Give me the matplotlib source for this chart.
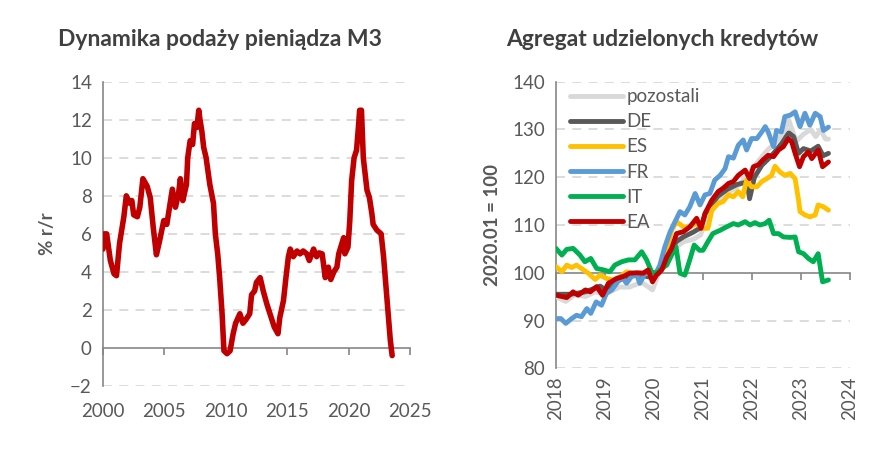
import matplotlib
matplotlib.use('Agg')
import matplotlib.pyplot as plt
import numpy as np

plt.rcParams['font.family'] = ['Lato', 'DejaVu Sans']

# --- M3 (left) ---
m3_t = [2000.0, 2000.1, 2000.3, 2000.6, 2000.9, 2001.1, 2001.35, 2001.7, 2001.9, 2002.2,
        2002.35, 2002.5, 2002.8, 2003.0, 2003.25, 2003.6, 2003.85, 2004.1, 2004.35, 2004.6,
        2004.95, 2005.2, 2005.65, 2005.9, 2006.15, 2006.3, 2006.5, 2006.8, 2006.9, 2007.1,
        2007.3, 2007.45, 2007.65, 2007.8, 2007.9, 2008.05, 2008.2, 2008.4, 2008.7, 2009.0,
        2009.15, 2009.35, 2009.5, 2009.7, 2009.85, 2010.1, 2010.35, 2010.6, 2010.8, 2011.15,
        2011.4, 2011.65, 2011.95, 2012.1, 2012.35, 2012.5, 2012.8, 2013.05, 2013.35, 2013.6,
        2013.95, 2014.25, 2014.4, 2014.7, 2014.9, 2015.1, 2015.25, 2015.5, 2015.8, 2016.05,
        2016.3, 2016.6, 2016.8, 2017.15, 2017.4, 2017.6, 2017.85, 2018.1, 2018.35, 2018.55,
        2018.8, 2019.05, 2019.2, 2019.6, 2019.7, 2019.95, 2020.1, 2020.25, 2020.45, 2020.65,
        2020.8, 2020.9, 2021.05, 2021.2, 2021.35, 2021.5, 2021.7, 2021.9, 2022.0, 2022.3,
        2022.65, 2022.85, 2023.05, 2023.25, 2023.4, 2023.55]
m3_v = [5.2, 6.0, 6.0, 4.6, 3.9, 3.8, 5.5, 6.9, 8.0, 7.6,
        7.75, 7.0, 6.9, 7.4, 8.9, 8.5, 7.9, 6.3, 4.9, 5.6,
        6.7, 6.5, 8.35, 7.4, 8.1, 8.9, 7.75, 8.6, 10.0, 10.9,
        10.7, 11.8, 11.6, 12.5, 12.0, 11.4, 10.55, 10.0, 8.6, 7.6,
        6.0, 4.9, 3.7, 1.8, -0.15, -0.3, -0.15, 0.75, 1.3, 1.8,
        1.3, 1.5, 1.8, 2.8, 3.0, 3.45, 3.7, 3.0, 2.3, 1.8,
        1.1, 0.75, 1.6, 2.5, 3.7, 4.8, 5.2, 4.8, 5.1, 4.95,
        5.1, 4.95, 4.6, 5.2, 4.8, 5.0, 4.95, 3.7, 4.25, 3.6,
        4.0, 4.25, 4.95, 5.8, 4.95, 5.3, 6.7, 8.8, 10.0, 10.4,
        11.6, 12.5, 12.5, 10.0, 9.15, 8.3, 7.9, 7.05, 6.5, 6.2,
        6.0, 4.8, 3.2, 1.6, 0.4, -0.4]

# --- credit aggregates (right) ---
poz_t = [2018.0, 2018.2, 2018.4, 2018.6, 2018.8, 2019.0, 2019.3, 2019.5, 2019.75, 2019.97,
         2020.1, 2020.25, 2020.4, 2020.6, 2020.8, 2020.95, 2021.1, 2021.4, 2021.7, 2021.95,
         2022.1, 2022.3, 2022.5, 2022.65, 2022.75, 2022.9, 2023.05, 2023.2, 2023.3, 2023.4,
         2023.5, 2023.56]
poz_v = [95.0, 94.0, 95.5, 95.0, 96.0, 95.5, 97.0, 97.0, 98.0, 96.4,
         100.0, 102.5, 105.0, 106.5, 107.0, 107.9, 112.0, 116.0, 118.0, 121.0,
         123.0, 125.5, 127.5, 129.5, 132.0, 127.5, 129.0, 130.0, 128.5, 130.0,
         128.0, 128.0]

de_t = [2018.0, 2018.3, 2018.6, 2018.9, 2019.0, 2019.3, 2019.6, 2019.95, 2020.1, 2020.3,
        2020.45, 2020.6, 2020.8, 2020.96, 2021.05, 2021.3, 2021.5, 2021.7, 2021.9, 2021.95,
        2022.05, 2022.2, 2022.4, 2022.6, 2022.75, 2022.85, 2022.95, 2023.05, 2023.2, 2023.35,
        2023.45, 2023.56]
de_v = [95.5, 95.5, 96.0, 97.2, 96.5, 98.5, 99.8, 99.0, 100.0, 103.0,
        106.5, 107.5, 108.5, 109.5, 112.5, 116.0, 117.5, 118.5, 119.0, 115.5,
        120.0, 122.5, 124.5, 127.0, 129.3, 128.5, 125.0, 126.0, 125.5, 126.5,
        124.5, 125.0]

es_t = [2018.0, 2018.12, 2018.22, 2018.32, 2018.42, 2018.52, 2018.66, 2018.8, 2018.9, 2019.03,
        2019.17, 2019.31, 2019.44, 2019.6, 2019.8, 2020.0, 2020.1, 2020.26, 2020.36, 2020.46,
        2020.6, 2020.73, 2020.87, 2021.0, 2021.1, 2021.18, 2021.31, 2021.41, 2021.52, 2021.62,
        2021.72, 2021.81, 2021.89, 2021.99, 2022.1, 2022.2, 2022.3, 2022.4, 2022.47, 2022.57,
        2022.67, 2022.78, 2022.88, 2022.95, 2022.98, 2023.08, 2023.18, 2023.29, 2023.35, 2023.46,
        2023.56]
es_v = [101.3, 100.2, 101.6, 101.1, 101.6, 100.9, 99.9, 98.6, 99.5, 98.8,
        98.5, 99.2, 100.2, 99.8, 100.0, 99.5, 100.5, 104.7, 108.9, 110.7,
        109.6, 109.6, 110.3, 109.3, 109.3, 113.1, 114.5, 114.9, 116.3, 115.9,
        117.0, 115.9, 119.4, 118.0, 118.0, 119.1, 119.7, 120.4, 122.3, 121.1,
        120.4, 120.8, 119.7, 115.2, 112.8, 112.1, 111.7, 112.1, 114.2, 113.8,
        113.1]

fr_t = [2018.0, 2018.1, 2018.2, 2018.32, 2018.42, 2018.52, 2018.63, 2018.71, 2018.82, 2018.93,
        2019.03, 2019.14, 2019.24, 2019.34, 2019.44, 2019.54, 2019.65, 2019.71, 2019.82, 2019.92,
        2020.02, 2020.12, 2020.22, 2020.33, 2020.43, 2020.53, 2020.63, 2020.73, 2020.84, 2020.94,
        2021.04, 2021.14, 2021.24, 2021.35, 2021.45, 2021.52, 2021.62, 2021.72, 2021.82, 2021.89,
        2021.99, 2022.1, 2022.2, 2022.27, 2022.33, 2022.44, 2022.5, 2022.6, 2022.67, 2022.78,
        2022.88, 2022.98, 2023.08, 2023.18, 2023.29, 2023.39, 2023.46, 2023.56]
fr_v = [90.4, 90.4, 89.4, 90.4, 91.1, 90.8, 92.5, 91.5, 93.9, 93.2,
        95.7, 96.4, 97.8, 99.2, 97.8, 99.2, 99.5, 97.8, 99.9, 100.2,
        99.5, 101.6, 105.4, 108.6, 110.7, 112.8, 112.1, 113.8, 116.6, 114.2,
        116.3, 116.6, 119.4, 120.4, 121.8, 124.3, 124.0, 126.7, 127.8, 125.7,
        128.1, 128.1, 129.5, 130.6, 129.5, 126.4, 129.8, 129.5, 132.7, 133.0,
        133.7, 130.6, 133.4, 130.9, 133.4, 132.7, 129.8, 130.5]

it_t = [2018.0, 2018.12, 2018.22, 2018.35, 2018.49, 2018.59, 2018.71, 2018.83, 2018.97, 2019.1,
        2019.2, 2019.34, 2019.48, 2019.61, 2019.75, 2019.85, 2019.95, 2020.05, 2020.16, 2020.26,
        2020.36, 2020.45, 2020.53, 2020.63, 2020.73, 2020.82, 2020.93, 2021.0, 2021.1, 2021.2,
        2021.35, 2021.48, 2021.62, 2021.72, 2021.86, 2021.96, 2022.06, 2022.16, 2022.27, 2022.35,
        2022.44, 2022.54, 2022.64, 2022.78, 2022.88, 2022.95, 2023.05, 2023.15, 2023.25, 2023.35,
        2023.44, 2023.56]
it_v = [105.1, 103.7, 104.9, 105.1, 103.7, 102.3, 103.0, 100.9, 100.6, 100.2,
        101.6, 102.3, 102.7, 102.7, 104.4, 102.7, 100.2, 99.9, 100.9, 101.6,
        103.7, 105.4, 99.9, 99.5, 102.7, 105.8, 104.7, 104.7, 106.5, 108.2,
        108.9, 109.6, 110.3, 110.0, 110.7, 110.0, 110.5, 110.0, 110.3, 111.0,
        108.2, 108.2, 107.5, 107.4, 107.5, 104.4, 104.0, 103.0, 102.3, 104.0,
        98.1, 98.5]

ea_t = [2018.0, 2018.22, 2018.35, 2018.45, 2018.6, 2018.7, 2018.83, 2018.95, 2019.07, 2019.24,
        2019.37, 2019.5, 2019.65, 2019.78, 2019.88, 2019.97, 2020.05, 2020.16, 2020.26, 2020.36,
        2020.46, 2020.6, 2020.73, 2020.87, 2020.96, 2021.04, 2021.18, 2021.31, 2021.41, 2021.52,
        2021.62, 2021.72, 2021.86, 2021.95, 2022.03, 2022.13, 2022.22, 2022.33, 2022.44, 2022.54,
        2022.64, 2022.74, 2022.81, 2022.88, 2022.97, 2023.05, 2023.15, 2023.22, 2023.35, 2023.44,
        2023.56]
ea_v = [95.3, 94.8, 96.0, 95.3, 96.4, 96.0, 97.1, 95.3, 97.8, 98.8,
        99.2, 99.9, 100.0, 99.9, 100.6, 98.1, 99.5, 100.6, 103.3, 105.1,
        108.2, 108.6, 109.6, 111.4, 109.3, 112.4, 115.2, 117.0, 117.7, 118.7,
        119.1, 120.4, 121.5, 119.7, 122.2, 122.6, 123.6, 124.6, 124.3, 125.7,
        126.4, 128.1, 127.4, 125.0, 122.2, 124.3, 125.3, 123.9, 125.7, 122.2,
        123.2]

series = [
    ('pozostali', poz_t, poz_v, '#D9D9D9'),
    ('DE', de_t, de_v, '#595959'),
    ('ES', es_t, es_v, '#FFC000'),
    ('FR', fr_t, fr_v, '#5B9BD5'),
    ('IT', it_t, it_v, '#00B050'),
    ('EA', ea_t, ea_v, '#C00000'),
]

txt = '#595959'
axc = '#868686'
gridc = '#D9D9D9'

fig = plt.figure(figsize=(8.87, 4.5), dpi=100)
ax1 = fig.add_axes([0.1161, 0.1422, 0.3461, 0.6762])
ax2 = fig.add_axes([0.6268, 0.1816, 0.3315, 0.6368])


def style(ax, ylo, yhi, ystep, base, xlo, xhi, xstep):
    ax.set_ylim(ylo, yhi)
    ax.set_xlim(xlo, xhi)
    ax.set_yticks(np.arange(ylo, yhi + 0.1, ystep))
    ax.set_xticks(np.arange(xlo, xhi + 0.1, xstep))
    for y in np.arange(ylo, yhi + 0.1, ystep):
        if y != base:
            ax.axhline(y, color=gridc, lw=1.3, ls=(0, (5, 4)), zorder=0)
    for s in ['top', 'right', 'bottom']:
        ax.spines[s].set_visible(False)
    ax.spines['left'].set_color(axc)
    ax.spines['left'].set_linewidth(1.2)
    ax.tick_params(axis='y', length=0, labelsize=13.5, labelcolor=txt, pad=8)
    ax.tick_params(axis='x', length=0, labelsize=13.5, labelcolor=txt)
    # horizontal axis drawn at base value, with tick marks
    frac = (base - ylo) / (yhi - ylo)
    sec = ax.secondary_xaxis(frac)
    sec.set_xticks(np.arange(xlo, xhi + 0.1, xstep))
    sec.tick_params(axis='x', direction='out', length=5, width=1.2, color=axc, labelbottom=False)
    sec.spines['bottom'].set_color(axc)
    sec.spines['bottom'].set_linewidth(1.2)


style(ax1, -2, 14, 2, 0, 2000, 2025, 5)
ax1.plot(m3_t, m3_v, color='#C00000', lw=4.0, solid_joinstyle='round',
         solid_capstyle='round', zorder=3)
ax1.set_ylabel('% r/r', fontsize=13.5, fontweight='bold', color=txt, labelpad=10)
ax1.tick_params(axis='x', pad=12)
ax1.set_title('Dynamika podaży pieniądza M3', fontsize=16.5, fontweight='bold',
              color='#404040', pad=26, x=0.38)

style(ax2, 80, 140, 10, 100, 2018, 2024, 1)
for name, t, v, c in series:
    ax2.plot(t, v, color=c, lw=3.5, label=name, solid_joinstyle='round',
             solid_capstyle='round', zorder=3)
ax2.tick_params(axis='x', rotation=90, pad=6)
ax2.set_ylabel('2020.01 = 100', fontsize=13.5, fontweight='bold', color=txt, labelpad=8)
ax2.set_title('Agregat udzielonych kredytów', fontsize=16.5, fontweight='bold',
              color='#404040', pad=26, x=0.36)
leg = ax2.legend(loc='upper left', bbox_to_anchor=(0.035, 0.99), frameon=False,
                 fontsize=13.5, handlelength=2.8, handletextpad=0.2, labelspacing=0.43,
                 borderaxespad=0, borderpad=0.2)
for t in leg.get_texts():
    t.set_color(txt)
for h in leg.get_lines():
    h.set_solid_capstyle('round')

fig.savefig('out.png', dpi=100)
